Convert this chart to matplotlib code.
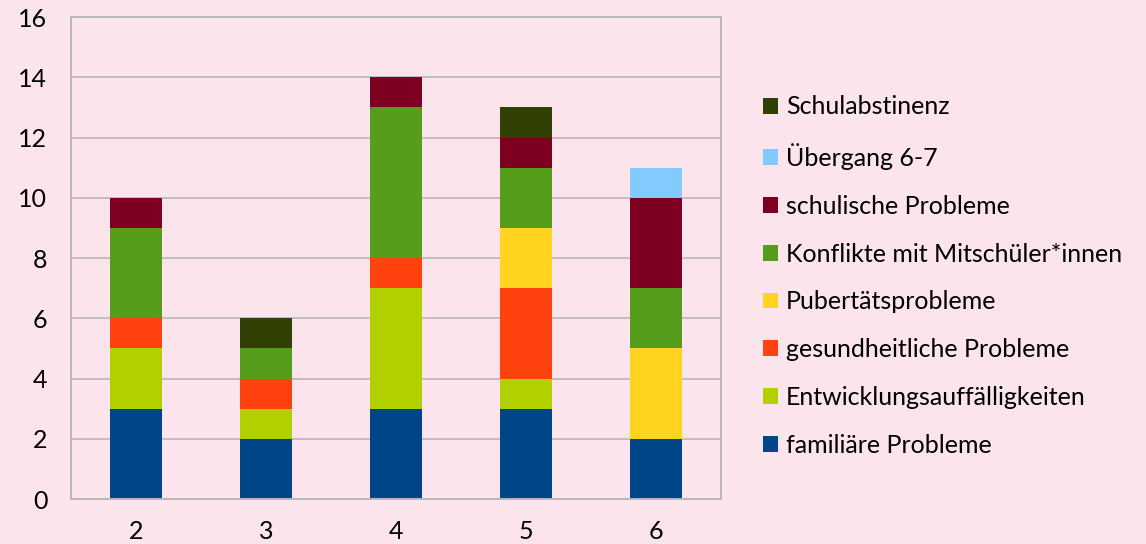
import matplotlib.pyplot as plt
import numpy as np
from matplotlib.patches import Patch

categories = ['2', '3', '4', '5', '6']
series = [
    'familiäre Probleme',
    'Entwicklungsauffälligkeiten',
    'gesundheitliche Probleme',
    'Pubertätsprobleme',
    'Konflikte mit Mitschüler*innen',
    'schulische Probleme',
    'Übergang 6-7',
    'Schulabstinenz',
]
familiaere = [3, 2, 3, 3, 2]
entwicklung = [2, 1, 4, 1, 0]
gesundheit = [1, 1, 1, 3, 0]
pubertaet = [0, 0, 0, 2, 3]
konflikte = [3, 1, 5, 2, 2]
schulisch = [1, 0, 1, 1, 3]
uebergang = [0, 0, 0, 0, 1]
schulabstinenz = [0, 1, 0, 1, 0]

values = [familiaere, entwicklung, gesundheit, pubertaet,
          konflikte, schulisch, uebergang, schulabstinenz]
colors = ['#004586', '#B2D000', '#FF420E', '#FFD320',
          '#579D1C', '#7E0021', '#83CAFF', '#314004']

plt.rcParams['font.family'] = ['Lato', 'DejaVu Sans']
bg = '#FBE4EB'
grid_c = '#B8B8B8'

fig = plt.figure(figsize=(11.46, 5.44), dpi=100, facecolor=bg)
ax = fig.add_axes([0.0620, 0.0827, 0.5672, 0.8860])
ax.set_facecolor(bg)

x = np.arange(len(categories))
bottom = np.zeros(len(categories))
for name, vals, col in zip(series, values, colors):
    vals = np.array(vals, dtype=float)
    ax.bar(x, vals, width=0.4, bottom=bottom, color=col, label=name, zorder=2)
    bottom += vals

ax.set_xlim(-0.5, 4.5)
ax.set_ylim(0, 16)
ax.set_yticks(range(0, 17, 2))
ax.set_xticks(x)
ax.set_xticklabels(categories)
ax.yaxis.grid(True, color=grid_c, linewidth=1.2, zorder=0)
ax.set_axisbelow(True)
for s in ax.spines.values():
    s.set_color(grid_c)
    s.set_linewidth(1.4)
ax.tick_params(axis='both', length=0, labelsize=18, colors='black')
ax.tick_params(axis='y', pad=17)
ax.tick_params(axis='x', pad=15)

handles = [Patch(facecolor=c, edgecolor='none') for c in colors][::-1]
labels = series[::-1]
fig.legend(handles, labels, loc='center left', bbox_to_anchor=(0.666, 0.4926),
           frameon=False, fontsize=18, handlelength=0.6, handleheight=0.6,
           handletextpad=0.3, labelspacing=0.99, borderpad=0, borderaxespad=0)

fig.savefig('out.png', dpi=100, facecolor=bg)
